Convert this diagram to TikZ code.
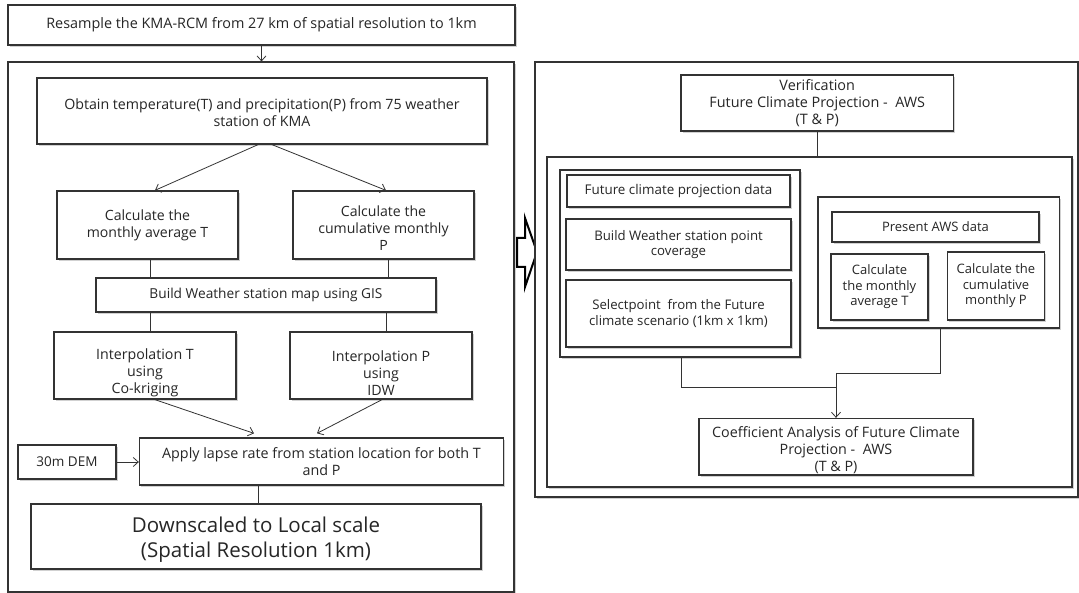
\documentclass[tikz,border=0pt]{standalone}
\usepackage{fontspec}
\setmainfont{Open Sans}
\usetikzlibrary{arrows.meta,shadows,calc}
\definecolor{ln}{HTML}{333333}
\definecolor{tx}{HTML}{262626}
\begin{document}
\begin{tikzpicture}[x=1pt,y=-1pt,
  shad/.style={drop shadow={shadow xshift=1.6pt,shadow yshift=-1.6pt,fill=black!40,opacity=0.45}},
  box/.style={draw=ln,line width=1.3pt,fill=white,text=tx,align=center,inner sep=1pt,shad},
  panel/.style={draw=ln,line width=1.1pt,fill=white,shad},
  conn/.style={draw=ln,line width=0.8pt},
  arr/.style={conn,-{Straight Barb[length=5pt,width=9pt]}},
  fa/.style={font=\fontsize{#1}{17}\selectfont},
  fb/.style={font=\fontsize{#1}{15.5}\selectfont},
]
\useasboundingbox (0,0) rectangle (1079,593);
% left side
\node[box,fa=14.4,minimum width=507pt,minimum height=40pt] (top) at (261.5,25) {Resample the KMA-RCM from 27 km of spatial resolution to 1km};
\node[panel,minimum width=506pt,minimum height=530pt] (lp) at (261,327) {};
\node[box,fa=14.2,minimum width=450pt,minimum height=66pt,text height=32pt] (obtain) at (262,111) {Obtain temperature(T) and precipitation(P) from 75 weather\\station of KMA};
\node[box,fa=14.1,minimum width=181pt,minimum height=68pt] (calcT) at (147.5,225) {Calculate the\\monthly average T};
\node[box,fa=14.1,minimum width=181pt,minimum height=68pt,text height=51pt] (calcP) at (383.5,225) {Calculate the\\cumulative monthly\\P};
\node[box,fa=13.7,minimum width=340pt,minimum height=34pt] (build) at (266,295) {Build Weather station map using GIS};
\node[box,fa=14.2,minimum width=182pt,minimum height=67pt,text height=60pt] (interpT) at (145,365.5) {Interpolation T\\using\\Co-kriging};
\node[box,fa=14.2,minimum width=182pt,minimum height=67pt,text height=60pt] (interpP) at (381,365.5) {Interpolation P\\using\\IDW};
\node[box,fa=14.3,minimum width=364pt,minimum height=47pt] (apply) at (321.5,461.5) {Apply lapse rate from station location for both T\\and P};
\node[box,fa=13.5,minimum width=98pt,minimum height=34pt] (dem) at (67,462) {30m DEM};
\node[box,font=\fontsize{20.5}{25}\selectfont,minimum width=450pt,minimum height=65pt,text height=46pt] (down) at (256,536.5) {Downscaled to Local scale\\(Spatial Resolution 1km)};
\draw[arr] (top.south) -- (top.south |- lp.north);
\draw[arr] ([xshift=-4pt]obtain.south) -- ([xshift=7.5pt]calcT.north);
\draw[arr] ([xshift=10pt]obtain.south) -- ([xshift=2.5pt]calcP.north);
\draw[conn] ([xshift=2.5pt]calcT.south) -- ([xshift=2.5pt]calcT.south |- build.north);
\draw[conn] ([xshift=4.5pt]calcP.south) -- ([xshift=4.5pt]calcP.south |- build.north);
\draw[conn] ([xshift=5pt]interpT.north |- build.south) -- ([xshift=5pt]interpT.north);
\draw[conn] ([xshift=5pt]interpP.north |- build.south) -- ([xshift=5pt]interpP.north);
\draw[arr] ([xshift=10pt]interpT.south) -- ([xshift=-67.5pt,yshift=4pt]apply.north);
\draw[arr] ([xshift=1pt]interpP.south) -- ([xshift=-4.5pt,yshift=4pt]apply.north);
\draw[arr] (dem.east) -- (apply.west |- dem.east);
\draw[conn] ([xshift=2pt]down.north |- apply.south) -- ([xshift=2pt]down.north);
% hollow arrow
\draw[line width=2pt,fill=white,line join=miter] (517,238) -- (525,238) -- (525,218) -- (537,252) -- (525,287) -- (525,267) -- (517,267) -- cycle;
% right side
\node[panel,minimum width=543pt,minimum height=435pt] (rp) at (806.5,279.5) {};
\node[box,fa=14.4,minimum width=272.5pt,minimum height=56pt] (verif) at (817.25,103) {Verification\\Future Climate Projection -\ \ AWS\\(T \& P)};
\node[panel,minimum width=525pt,minimum height=330pt] (inner) at (809.5,322) {};
\node[panel,minimum width=240pt,minimum height=187pt] (lg) at (680,263.5) {};
\node[box,fb=13.4,minimum width=223pt,minimum height=32pt] (futdata) at (678.5,191) {Future climate projection data};
\node[box,fb=13.2,minimum width=225pt,minimum height=51pt] (buildpt) at (678.5,244.5) {Build Weather station point\\coverage};
\node[box,fb=13.2,minimum width=225pt,minimum height=67pt] (selpt) at (678.5,313.5) {Selectpoint\ \ from the Future\\climate scenario (1km x 1km)};
\node[panel,minimum width=241.5pt,minimum height=131pt] (rg) at (938.75,262.5) {};
\node[box,fb=13,minimum width=207pt,minimum height=30pt] (present) at (935.5,227) {Present AWS data};
\node[box,fb=13,minimum width=97pt,minimum height=66pt] (calcTs) at (879.5,287) {Calculate\\the monthly\\average T};
\node[box,fb=13,minimum width=97pt,minimum height=68pt] (calcPs) at (996,286) {Calculate the\\cumulative\\monthly P};
\node[box,fa=14.3,minimum width=274pt,minimum height=56.5pt,text height=51pt] (coef) at (836,446.75) {Coefficient Analysis of Future Climate\\Projection -\ \ AWS\\(T \& P)};
\coordinate (j1) at (836,373);
\coordinate (j2) at (836,387);
\draw[conn] (verif.south) -- (verif.south |- inner.north);
\draw[conn] ([xshift=1pt]lg.south) |- (j2);
\draw[conn] ([xshift=1.25pt]rg.south) |- (j1);
\draw[arr] (j1) -- (coef.north);
\end{tikzpicture}
\end{document}
